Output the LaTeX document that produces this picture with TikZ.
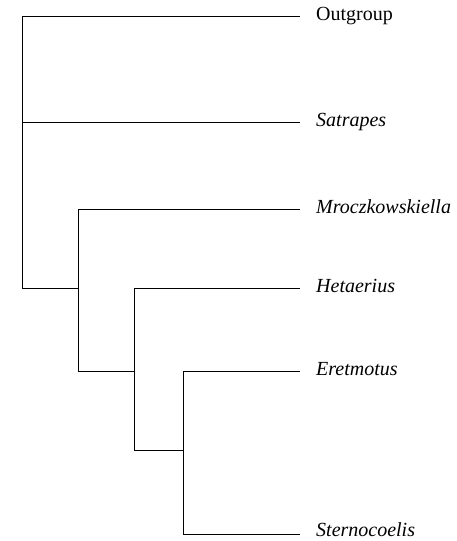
\documentclass[tikz,border=0pt]{standalone}
\usepackage{fontspec}
\setmainfont{Liberation Serif}
\usepackage{tikz}
\usetikzlibrary{positioning}
\tikzset{
  taxon/.style={anchor=base west, inner sep=0pt, font=\fontsize{20}{24}\selectfont},
  branch/.style={line width=0.8pt}
}

\begin{document}
\begin{tikzpicture}[x=1pt, y=1pt]
  \useasboundingbox (0,0) rectangle (456,541);

  % Tips and taxon names
  \foreach \name/\y/\dy/\txt in {
  out/525/5/Outgroup,
  sat/419/5/\textit{Satrapes},
  mro/332/5/\textit{Mroczkowskiella},
  het/253/5/\textit{Hetaerius},
  ere/170/5/\textit{Eretmotus},
  ste/7/2/\textit{Sternocoelis}
  } {
    \coordinate (t\name) at (300,\y);
    \node[taxon] (\name) at (316,\y-\dy) {\txt};
  }

  % Internal nodes
  \coordinate (root) at (22,253);
  \coordinate (rsat) at (22,419);
  \coordinate (nA) at (78,253);
  \coordinate (nB) at (134,170);
  \coordinate (nC) at (183,91);

  % Branches
  \draw[branch] (root) |- (tout);
  \draw[branch] (rsat) -- (tsat);
  \draw[branch] (root) -- (nA);
  \draw[branch] (nA) |- (tmro);
  \draw[branch] (nA) |- (nB);
  \draw[branch] (nB) |- (thet);
  \draw[branch] (nB) |- (nC);
  \draw[branch] (nC) |- (tere);
  \draw[branch] (nC) |- (tste);

\end{tikzpicture}
\end{document}
